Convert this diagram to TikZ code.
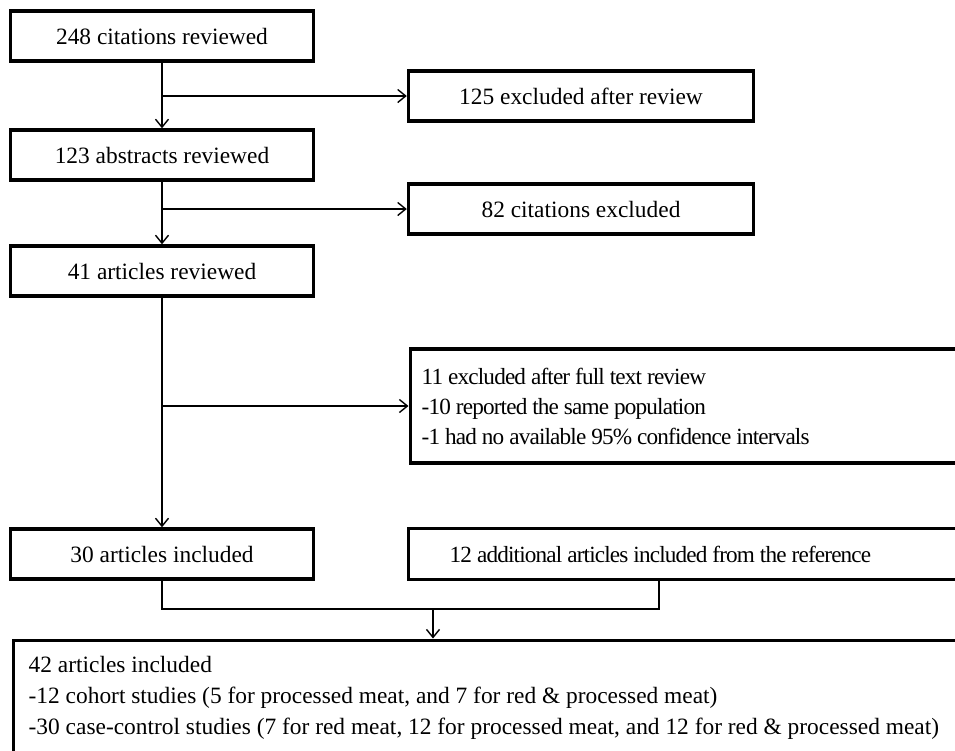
\documentclass[tikz,border=0pt]{standalone}
\usepackage{fontspec}
\setmainfont{Liberation Serif}
\newfontfamily\tightfont[LetterSpace=-3.6]{Liberation Serif}
\usetikzlibrary{arrows.meta}

\begin{document}
\begin{tikzpicture}[x=1pt,y=-1pt,>={Straight Barb[length=8pt,width=13pt]},
        line width=1.4pt,
        main box/.style={draw,line width=3.4pt,inner sep=0pt,minimum width=303pt,minimum height=50pt,font=\fontsize{23.4}{31}\selectfont},
        side box/.style={draw,line width=3.4pt,inner sep=0pt,minimum width=345pt,minimum height=50pt,font=\fontsize{23.4}{31}\selectfont},
        wide box/.style={draw,line width=3.4pt,anchor=west,inner ysep=0pt,align=flush left,font=\tightfont\fontsize{23.2}{30}\selectfont}]
        \clip (0,0) rectangle (955,750);
        \fill[white] (0,0) rectangle (955,750);
        \node[main box] (cit) at (162,36) {248 citations reviewed};
        \node[side box] (exc1) at (581,96) {125 excluded after review};
        \node[main box] (abs) at (162,155) {123 abstracts reviewed};
        \node[side box] (exc2) at (581,209) {82 citations excluded};
        \node[main box] (art) at (162,271) {41 articles reviewed};
        \node[wide box, inner xsep=11.5pt, text width=600pt, minimum height=114pt] (exc3) at (408.5,406)
            {11 excluded after full text review\\
             -10 reported the same population\\
             -1 had no available 95\% confidence intervals};
        \node[main box] (inc) at (162,554) {30 articles included};
        \node[wide box, inner xsep=41.5pt, text width=560pt, minimum height=51pt] (add) at (406.5,554)
            {12 additional articles included from the reference};
        \node[wide box, anchor=north west, inner xsep=15.5pt, text width=1000pt, minimum height=116pt,
            font=\fontsize{23.4}{31}\selectfont] (total) at (11.5,638.5)
            {42 articles included\\
             -12 cohort studies (5 for processed meat, and 7 for red \& processed meat)\\
             -30 case-control studies (7 for red meat, 12 for processed meat, and 12 for red \& processed meat)};
        \coordinate (join) at (433,609);
        \coordinate (up8) at (659,500);
        % main column
        \draw[->] (cit) -- (abs);
        \draw[->] (abs) -- (art);
        \draw[->] (art) -- (inc);
        % exclusions
        \draw[->] (cit.south |- exc1.west) -- (exc1.west);
        \draw[->] (abs.south |- exc2.west) -- (exc2.west);
        \draw[->] (art.south |- exc3.west) -- (exc3.west);
        % merge
        \draw (inc.south) |- (join) -| (up8 |- add.south);
        \draw[->] (join) -- (join |- total.north);
\end{tikzpicture}
\end{document}
